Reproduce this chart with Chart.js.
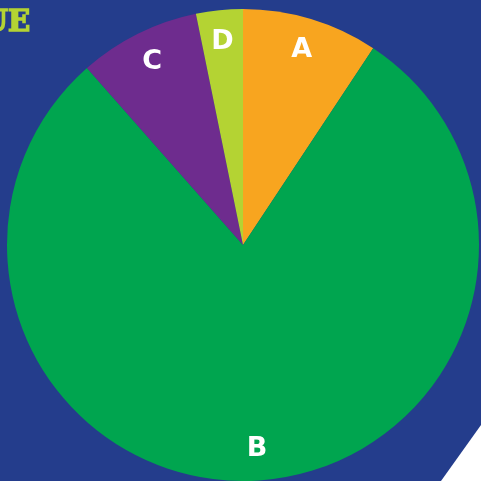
<!DOCTYPE html>
<html>
<head>
<meta charset="utf-8">
<script src="https://cdn.jsdelivr.net/npm/chart.js@4/dist/chart.umd.min.js"></script>
<style>
  html, body { margin: 0; padding: 0; background: #243d8c; }
  #wrap { width: 481px; height: 481px; }
</style>
</head>
<body>
<div id="wrap"><canvas id="myChart" width="481" height="481"></canvas></div>
<script>
const labels = ['A', 'B', 'C', 'D'];
const values = [9.3, 79.2, 8.3, 3.2];
const colors = ['#f8a51f', '#00a54f', '#6e2c8e', '#b4d333'];

// background, corner shape and the cut title
const decor = {
  id: 'decor',
  beforeDraw(chart) {
    const c = chart.ctx;
    c.save();
    c.fillStyle = '#243d8c';
    c.fillRect(0, 0, chart.width, chart.height);
    c.fillStyle = '#ffffff';
    c.beginPath();
    c.moveTo(481, 425);
    c.lineTo(441, 481);
    c.lineTo(481, 481);
    c.closePath();
    c.fill();
    c.fillStyle = '#b4d333';
    c.strokeStyle = '#b4d333';
    c.lineWidth = 1.6;
    c.font = 'bold 29px "DejaVu Serif", serif';
    c.textAlign = 'right';
    c.textBaseline = 'alphabetic';
    c.fillText('UE', 30, 31);
    c.strokeText('UE', 30, 31);
    c.restore();
  }
};

// letters on the slices
const sliceLabels = {
  id: 'sliceLabels',
  afterDatasetsDraw(chart) {
    const c = chart.ctx;
    const arcs = chart.getDatasetMeta(0).data;
    c.save();
    c.fillStyle = '#ffffff';
    c.font = 'bold 27px "DejaVu Sans"';
    c.textAlign = 'center';
    c.textBaseline = 'middle';
    arcs.forEach((arc, i) => {
      const mid = (arc.startAngle + arc.endAngle) / 2;
      const r = arc.outerRadius * 0.865;
      c.fillText(labels[i], arc.x + Math.cos(mid) * r, arc.y + Math.sin(mid) * r);
    });
    c.restore();
  }
};

const ctx = document.getElementById('myChart').getContext('2d');

const config = {
  type: 'pie',
  data: {
    labels: labels,
    datasets: [{
      data: values,
      backgroundColor: colors,
      borderWidth: 0
    }]
  },
  options: {
    responsive: false,
    animation: false,
    layout: {
      padding: { left: 7, right: 2, top: 9, bottom: 0 }
    },
    plugins: {
      legend: { display: false },
      tooltip: { enabled: false }
    }
  },
  plugins: [decor, sliceLabels]
};

const myChart = new Chart(ctx, config);
</script>
</body>
</html>
